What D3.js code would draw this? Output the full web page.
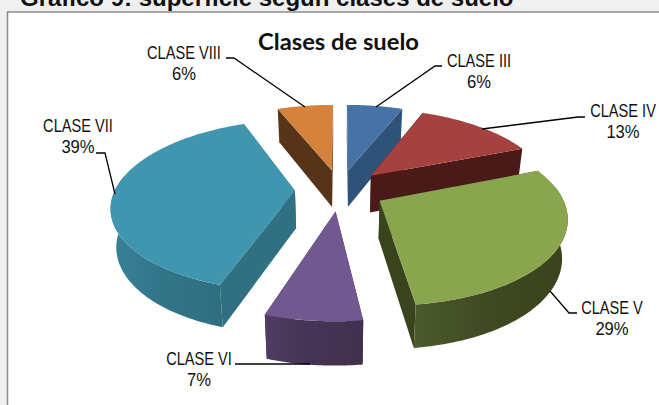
<!DOCTYPE html>
<html><head><meta charset="utf-8">
<script src="https://cdn.jsdelivr.net/npm/d3@7"></script>
<style>html,body{margin:0;padding:0;background:#fff;overflow:hidden}svg{display:block}</style>
</head><body><svg id="c" width="659" height="405"></svg>
<script>
const categories = ["CLASE III","CLASE IV","CLASE V","CLASE VI","CLASE VII","CLASE VIII"];
const values = [6,13,29,7,39,6];
const topColors = ["#4772a6","#a5423f","#89a54e","#71588f","#4196af","#d6813c"];
const cutColors = ["#2f5378","#491a17","#39431d","#44334f","#2f7081","#57331a"];
const wallLight = ["#2f5378","#491a17","#4c5a2c","#503d63","#3a8299","#57331a"];
const wallDark  = ["#2f5378","#491a17","#39431d","#42304f","#2f6f80","#57331a"];
const labelCenter = [479,623,612,199,78,184];
const labelBase = [67,117,314,365,132,59];
const leaders = [
 [[442,66],[435,66],[376,107]],
 [[585,117],[578,117],[482,129]],
 [[577,313],[569,313],[550,291]],
 [[235,364],[310,364]],
 [[96,153],[105,153],[115,194]],
 [[226,58],[234,58],[305,107]]
];
const heading = "Gráfico 9: superficie según clases de suelo";
const title = "Clases de suelo";

const svg = d3.select("#c");
const cx=340, cy=190, R=180, E=45, k=0.46, p=0.17, H=37.5, shrink=0.975;
function project(X,Y,bottom){
  const s=1/(1-p*Y/R);
  const dx=X*s, dy=Y*k*s;
  return bottom ? [cx+dx*shrink, cy+dy*shrink+H*s] : [cx+dx, cy+dy];
}
function ground(a,r,m){ return [E*Math.sin(m)+r*Math.sin(a), -E*Math.cos(m)-r*Math.cos(a)]; }
const pie=d3.pie().sort(null)(values);
const line=d3.line();
const defs=svg.append("defs");

svg.append("rect").attr("width",659).attr("height",12).attr("fill","#f0f0f0");
svg.append("rect").attr("width",7).attr("height",405).attr("fill","#f0f0f0");
svg.append("path").attr("d",line([[7.5,405],[7.5,12],[659,12]])).attr("fill","none").attr("stroke","#8c8c8c").attr("stroke-width",1.5);
svg.append("text").attr("x",20).attr("y",6).text(heading)
  .attr("font-family","'Liberation Sans',Arial,sans-serif").attr("font-weight",700).attr("font-size",24).attr("fill","#111");

const slices=pie.map((d,i)=>({...d,i,m:(d.startAngle+d.endAngle)/2}))
  .sort((a,b)=>(-Math.cos(a.m))-(-Math.cos(b.m)));

slices.forEach(d=>{
  const a0=d.startAngle,a1=d.endAngle,m=d.m,i=d.i;
  const arc=(from,to,bottom)=>d3.range(0,61).map(t=>{
    const a=from+(to-from)*t/60; const g=ground(a,R,m); return project(g[0],g[1],bottom);
  });
  const apex=ground(0,0,m);
  const g=svg.append("g");
  [a0,a1].forEach(a=>{
    const c=ground(a,R,m);
    g.append("path").attr("fill",cutColors[i]).attr("d",line([
      project(apex[0],apex[1],false),project(c[0],c[1],false),
      project(c[0],c[1],true),project(apex[0],apex[1],true)])+"Z");
  });
  const w0=Math.max(a0,Math.PI*80/180), w1=Math.min(a1,Math.PI*280/180);
  if(w1>w0){
    const topArc=arc(w0,w1,false), botArc=arc(w0,w1,true).reverse();
    const xs=topArc.concat(botArc).map(q=>q[0]);
    const id="w"+i;
    const gr=defs.append("linearGradient").attr("id",id).attr("gradientUnits","userSpaceOnUse")
      .attr("x1",d3.min(xs)).attr("x2",d3.max(xs)).attr("y1",0).attr("y2",0);
    gr.append("stop").attr("offset","0").attr("stop-color",wallLight[i]);
    gr.append("stop").attr("offset","0.45").attr("stop-color",d3.interpolateRgb(wallLight[i],wallDark[i])(0.7));
    gr.append("stop").attr("offset","1").attr("stop-color",wallDark[i]);
    g.append("path").attr("fill",`url(#${id})`).attr("d",line(topArc.concat(botArc))+"Z");
  }
  g.append("path").attr("fill",topColors[i])
    .attr("d",line([project(apex[0],apex[1],false)].concat(arc(a0,a1,false)))+"Z");
});

leaders.forEach(l=>svg.append("path").attr("d",line(l)).attr("fill","none").attr("stroke","#000").attr("stroke-width",1.3));

categories.forEach((c,i)=>{
  const base={"text-anchor":"middle","fill":"#111","font-family":"'Liberation Sans',sans-serif","font-size":17.5};
  const a=svg.append("text").attr("transform",`translate(${labelCenter[i]},${labelBase[i]}) scale(0.835,1)`).text(c);
  const b=svg.append("text").attr("transform",`translate(${labelCenter[i]},${labelBase[i]+20.5}) scale(0.95,1)`).text(values[i]+"%");
  [a,b].forEach(t=>Object.entries(base).forEach(([n,v])=>t.attr(n,v)));
});
svg.append("text").attr("text-anchor","middle").text(title)
  .attr("transform","translate(338.5,50) scale(1.08,1)")
  .attr("font-family","Lato,'Open Sans',sans-serif").attr("font-weight",700).attr("font-size",22).attr("fill","#111");
</script></body></html>
